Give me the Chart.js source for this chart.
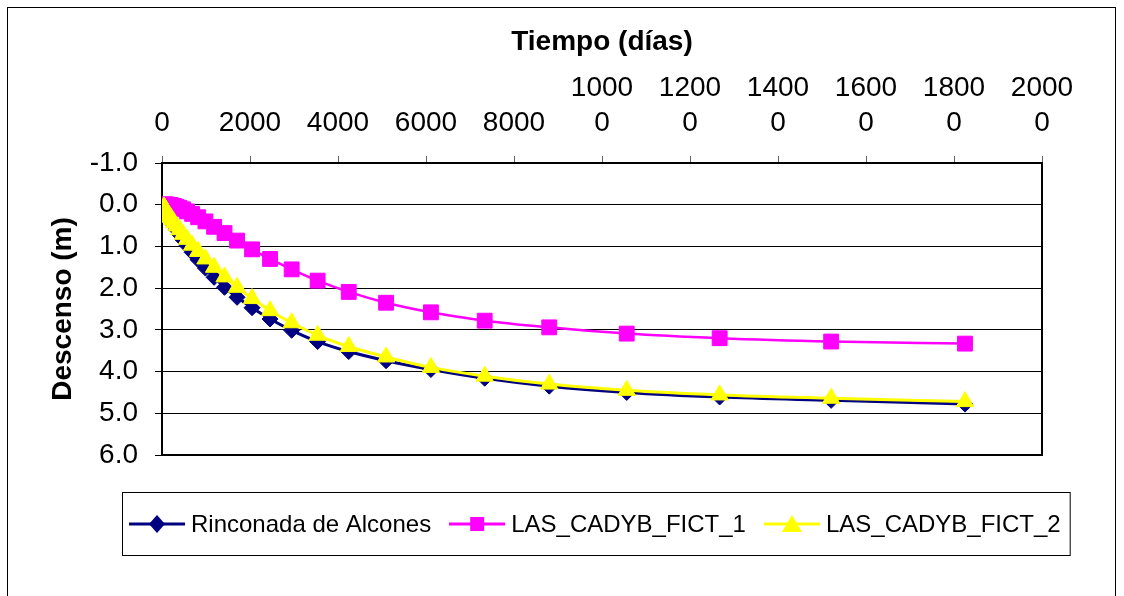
<!DOCTYPE html>
<html>
<head>
<meta charset="utf-8">
<script src="https://cdn.jsdelivr.net/npm/chart.js@4"></script>
<style>
html, body { margin: 0; padding: 0; background: #fff; }
</style>
</head>
<body>
<canvas id="chart" width="1124" height="596"></canvas>
<script>
// tiempo (días) and descenso (m)
const times = [44, 53, 64, 77, 92, 110, 133, 159, 191, 229, 275, 330, 396, 476, 571, 685, 822, 987,
    1184, 1421, 1706, 2047, 2456, 2947, 3537, 4244, 5093, 6112, 7334, 8801, 10562, 12674, 15208, 18250];
const rinconada = [0.06, 0.08, 0.10, 0.13, 0.16, 0.20, 0.24, 0.29, 0.35, 0.42, 0.50, 0.60, 0.71, 0.84, 0.98, 1.14, 1.32, 1.52,
    1.74, 1.98, 2.22, 2.47, 2.74, 3.01, 3.28, 3.52, 3.74, 3.95, 4.16, 4.35, 4.50, 4.61, 4.69, 4.78];
const fict1 = [0, 0, 0, 0, 0, 0, 0, 0.005, 0.01, 0.02, 0.03, 0.05, 0.075, 0.11, 0.16, 0.22, 0.30, 0.40,
    0.53, 0.68, 0.86, 1.07, 1.30, 1.55, 1.82, 2.09, 2.35, 2.58, 2.78, 2.94, 3.09, 3.20, 3.28, 3.33];
const fict2 = [0.05, 0.07, 0.09, 0.11, 0.14, 0.17, 0.21, 0.25, 0.30, 0.36, 0.43, 0.51, 0.60, 0.71, 0.83, 0.97, 1.12, 1.30,
    1.50, 1.73, 1.98, 2.25, 2.54, 2.83, 3.13, 3.40, 3.65, 3.90, 4.11, 4.30, 4.45, 4.56, 4.64, 4.72];
const seriesNames = ['Rinconada de Alcones', 'LAS_CADYB_FICT_1', 'LAS_CADYB_FICT_2'];
const seriesColors = ['#000080', '#FF00FF', '#FFFF00'];

const FONT = "'Liberation Sans', Arial, sans-serif";

function toPoints(values) {
    return times.map((t, i) => ({ x: t, y: values[i] }));
}

// legend symbol: line with the marker on it, like the spreadsheet legend
function makeSymbol(color, shape) {
    const c = document.createElement('canvas');
    c.width = 56;
    c.height = 22;
    const g = c.getContext('2d');
    g.strokeStyle = color;
    g.lineWidth = 3;
    g.beginPath();
    g.moveTo(0, 11);
    g.lineTo(56, 11);
    g.stroke();
    g.fillStyle = color;
    g.beginPath();
    if (shape === 'diamond') {
        g.moveTo(28, 2); g.lineTo(36, 11); g.lineTo(28, 20); g.lineTo(20, 11);
    } else if (shape === 'square') {
        g.rect(21, 4, 14, 14);
    } else {
        g.moveTo(28, 2); g.lineTo(38, 19); g.lineTo(18, 19);
    }
    g.closePath();
    g.fill();
    return c;
}
const symbols = [
    makeSymbol(seriesColors[0], 'diamond'),
    makeSymbol(seriesColors[1], 'square'),
    makeSymbol(seriesColors[2], 'triangle')
];

const framePlugin = {
    id: 'frame',
    beforeDraw(chart) {
        const ctx = chart.ctx;
        ctx.save();
        ctx.fillStyle = '#fff';
        ctx.fillRect(0, 0, chart.width, chart.height);
        ctx.strokeStyle = '#000';
        ctx.lineWidth = 1;
        ctx.strokeRect(7.5, 7.5, chart.width - 16, chart.height + 10);
        ctx.restore();
    },
    beforeDatasetsDraw(chart) {
        const a = chart.chartArea;
        const ctx = chart.ctx;
        ctx.save();
        ctx.strokeStyle = '#000';
        ctx.lineWidth = 2;
        ctx.strokeRect(a.left, a.top, a.right - a.left, a.bottom - a.top);
        ctx.restore();
    }
};

// boxed legend under the plot, items in one row
const boxLegend = {
    id: 'boxLegend',
    afterDraw(chart) {
        const ctx = chart.ctx;
        const a = chart.chartArea;
        const symW = 56, gap = 6, itemGap = 18;
        ctx.save();
        ctx.font = '24px ' + FONT;
        const widths = chart.data.datasets.map(ds => ctx.measureText(ds.label).width);
        const total = widths.reduce((s, w) => s + symW + gap + w, 0) + itemGap * (widths.length - 1);
        const cy = a.bottom + 69;
        let x = Math.round(595 - total / 2);
        const boxLeft = x - 7, boxRight = x + total + 9;
        ctx.strokeStyle = '#000';
        ctx.lineWidth = 1;
        ctx.strokeRect(boxLeft + 0.5, cy - 31.5, boxRight - boxLeft, 63);
        ctx.fillStyle = '#000';
        ctx.textBaseline = 'middle';
        ctx.textAlign = 'left';
        chart.data.datasets.forEach((ds, i) => {
            ctx.drawImage(symbols[i], x, cy - 11);
            x += symW + gap;
            ctx.fillText(ds.label, x, cy + 1);
            x += widths[i] + itemGap;
        });
        ctx.restore();
    }
};

const ctx = document.getElementById('chart').getContext('2d');
const chart = new Chart(ctx, {
    type: 'line',
    data: {
        datasets: [{
            label: seriesNames[0],
            data: toPoints(rinconada),
            borderColor: seriesColors[0],
            backgroundColor: seriesColors[0],
            borderWidth: 3,
            pointStyle: 'rectRot',
            pointRadius: 8,
            pointBorderWidth: 1,
            order: 3
        }, {
            label: seriesNames[1],
            data: toPoints(fict1),
            borderColor: seriesColors[1],
            backgroundColor: seriesColors[1],
            borderWidth: 2.5,
            pointStyle: 'rect',
            pointRadius: 10.5,
            pointBorderWidth: 1,
            order: 2
        }, {
            label: seriesNames[2],
            data: toPoints(fict2),
            borderColor: seriesColors[2],
            backgroundColor: seriesColors[2],
            borderWidth: 3,
            pointStyle: 'triangle',
            pointRadius: 10,
            pointBorderWidth: 1,
            order: 1
        }]
    },
    options: {
        responsive: false,
        animation: false,
        devicePixelRatio: 1,
        cubicInterpolationMode: 'monotone',
        layout: { padding: { top: 8, left: 8, right: 82, bottom: 141 } },
        plugins: {
            tooltip: { enabled: false },
            legend: { display: false }
        },
        scales: {
            x: {
                type: 'linear',
                position: 'top',
                min: 0,
                max: 20000,
                afterFit: (scale) => { scale.height = 155; },
                border: { display: false },
                grid: { drawOnChartArea: false, tickLength: 7, color: '#666' },
                ticks: {
                    stepSize: 2000,
                    autoSkip: false,
                    maxRotation: 0,
                    padding: 15,
                    color: '#000',
                    font: { family: FONT, size: 28, lineHeight: 1.25 },
                    callback: (v) => {
                        const s = String(v);
                        return v >= 10000 ? [s.slice(0, -1), s.slice(-1)] : s;
                    }
                },
                title: {
                    display: true,
                    text: 'Tiempo (días)',
                    color: '#000',
                    padding: { top: 17, bottom: 0 },
                    font: { family: FONT, size: 28, weight: 'bold' }
                }
            },
            y: {
                type: 'linear',
                reverse: true,
                min: -1,
                max: 6,
                afterFit: (scale) => { scale.width = 154; },
                border: { display: false },
                grid: { color: '#000', lineWidth: 1, tickLength: 7 },
                ticks: {
                    stepSize: 1,
                    padding: 17,
                    color: '#000',
                    font: { family: FONT, size: 28 },
                    callback: (v) => v.toFixed(1)
                },
                title: {
                    display: true,
                    text: 'Descenso (m)',
                    color: '#000',
                    padding: { top: 38, bottom: 0 },
                    font: { family: FONT, size: 28, weight: 'bold' }
                }
            }
        }
    },
    plugins: [framePlugin, boxLegend]
});
</script>
</body>
</html>
